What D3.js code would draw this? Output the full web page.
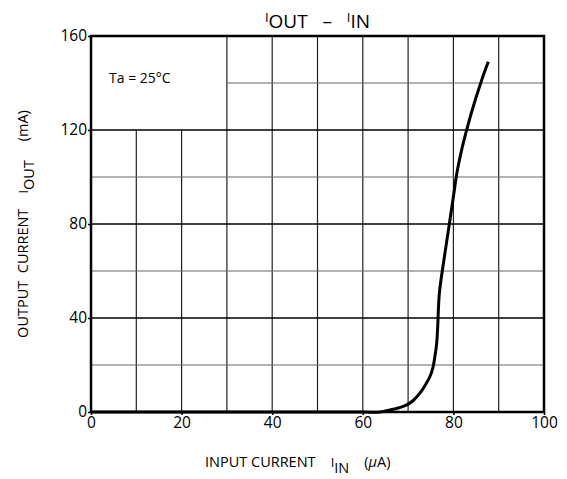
<!DOCTYPE html>
<html>
<head>
<meta charset="utf-8">
<script src="https://cdn.jsdelivr.net/npm/d3@7"></script>
<style>
  body { margin: 0; background: #fff; }
  svg text { font-family: "Open Sans", "Noto Sans", sans-serif; fill: #000; white-space: pre; }
</style>
</head>
<body>
<div id="chart"></div>
<script>
// Data (IIN in uA, IOUT in mA)
const iin = [0, 20, 40, 60, 63.8, 66, 68, 69.7, 71.2, 72.6, 73.8, 74.8, 75.5, 75.9, 76.3, 76.5, 76.9, 77.8, 78.9, 80.0, 80.8, 82.0, 83.2, 84.7, 86.2, 87.7];
const iout = [0, 0, 0, 0, 0, 0.85, 1.8, 3, 5, 8, 11.5, 15, 19, 23.5, 29, 34.9, 50.5, 63.3, 77.4, 91.6, 102, 113, 122, 132, 141, 149];

const xTicks = [0, 20, 40, 60, 80, 100];
const yTicks = [0, 40, 80, 120, 160];
const xGrid = [10, 20, 30, 40, 50, 60, 70, 80, 90];
const yGrid = [20, 40, 60, 80, 100, 120, 140];

const width = 567, height = 479;
const margin = { top: 36, right: 23, bottom: 67, left: 91 };

const svg = d3.select('#chart').append('svg')
  .attr('width', width)
  .attr('height', height);

const x = d3.scaleLinear().domain([0, 100]).range([margin.left, width - margin.right]);
const y = d3.scaleLinear().domain([0, 160]).range([height - margin.bottom, margin.top]);

// vertical grid lines (the "Ta = 25°C" box top left stays empty)
xGrid.forEach(v => {
  svg.append('line')
    .attr('x1', x(v)).attr('x2', x(v))
    .attr('y1', y(0)).attr('y2', v < 30 ? y(120) : y(160))
    .attr('stroke', '#222')
    .attr('stroke-width', 1.2);
});

// horizontal grid lines, every 40 heavier
yGrid.forEach(v => {
  const major = v % 40 === 0;
  svg.append('line')
    .attr('x1', v > 120 ? x(30) : x(0)).attr('x2', x(100))
    .attr('y1', y(v)).attr('y2', y(v))
    .attr('stroke', major ? '#000' : '#666')
    .attr('stroke-width', major ? 1.6 : 1);
});

// frame
svg.append('rect')
  .attr('x', x(0)).attr('y', y(160))
  .attr('width', x(100) - x(0)).attr('height', y(0) - y(160))
  .attr('fill', 'none')
  .attr('stroke', '#000')
  .attr('stroke-width', 2.5);

// axes
const xAxis = svg.append('g')
  .attr('transform', `translate(0,${y(0)})`)
  .call(d3.axisBottom(x).tickValues(xTicks).tickSize(3).tickPadding(2));
const yAxis = svg.append('g')
  .attr('transform', `translate(${x(0)},0)`)
  .call(d3.axisLeft(y).tickValues(yTicks).tickSize(3).tickPadding(1));

[xAxis, yAxis].forEach(a => {
  a.select('.domain').remove();
  a.selectAll('line').attr('stroke', '#000').attr('stroke-width', 1.5);
  a.selectAll('text')
    .style('font-family', '"Open Sans", "Noto Sans", sans-serif')
    .style('font-size', '15.5px')
    .attr('fill', '#000');
});

// curve
const line = d3.line()
  .x((d, i) => x(iin[i]))
  .y((d, i) => y(iout[i]))
  .curve(d3.curveCatmullRom.alpha(0.5));

svg.append('path')
  .datum(iin)
  .attr('d', line)
  .attr('fill', 'none')
  .attr('stroke', '#000')
  .attr('stroke-width', 3)
  .attr('stroke-linejoin', 'round');

// condition label
svg.append('text')
  .attr('x', 109).attr('y', 83)
  .style('font-size', '14px')
  .text('Ta = 25°C');

// title: I OUT - I IN
const title = svg.append('text')
  .attr('x', (x(0) + x(100)) / 2)
  .attr('y', 28)
  .attr('text-anchor', 'middle')
  .style('font-size', '19px');
title.append('tspan').attr('dy', -6).style('font-size', '13px').text('I');
title.append('tspan').attr('dy', 6).text('OUT   –   ');
title.append('tspan').attr('dy', -6).style('font-size', '13px').text('I');
title.append('tspan').attr('dy', 6).text('IN');

// x axis label
const xLabel = svg.append('text')
  .attr('x', 205)
  .attr('y', 467)
  .style('font-size', '14.5px');
xLabel.append('tspan').text('INPUT CURRENT    ');
xLabel.append('tspan').style('font-size', '13px').text('I');
xLabel.append('tspan').attr('dy', 6).text('IN');
xLabel.append('tspan').attr('dy', -6).text('    (');
xLabel.append('tspan').style('font-style', 'italic').text('μ');
xLabel.append('tspan').text('A)');

// y axis label
const yLabel = svg.append('text')
  .attr('transform', `translate(28,${(y(0) + y(160)) / 2}) rotate(-90)`)
  .attr('text-anchor', 'middle')
  .style('font-size', '14.5px');
yLabel.append('tspan').text('OUTPUT  CURRENT    ');
yLabel.append('tspan').style('font-size', '13px').text('I');
yLabel.append('tspan').attr('dy', 6).text('OUT');
yLabel.append('tspan').attr('dy', -6).text('     (mA)');
</script>
</body>
</html>
